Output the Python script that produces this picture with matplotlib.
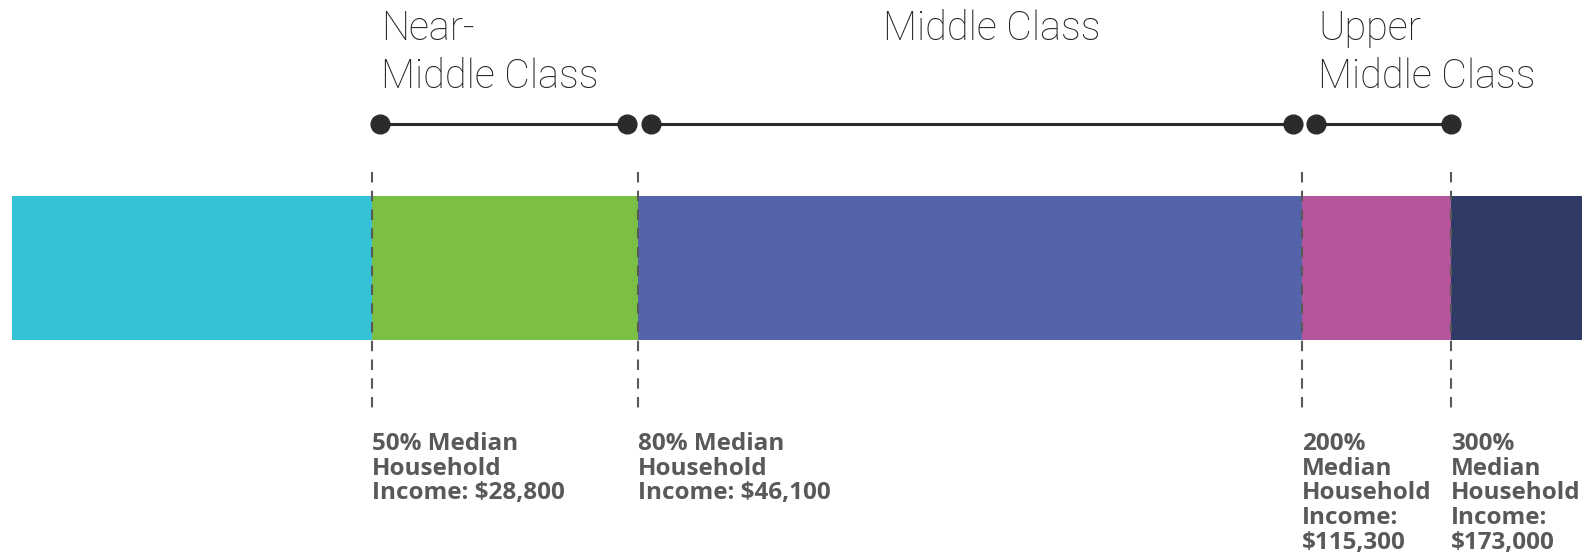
import matplotlib.pyplot as plt

# segment edges along the bar (chart units, left to right)
edges = [12, 372, 638, 1302, 1451, 1582]
colors = ["#35c1d6", "#7bbf45", "#5564aa", "#b5559b", "#2f3a66"]

# threshold labels under the bar, one per inner edge
thresholds = [
    "50% Median\nHousehold\nIncome: $28,800",
    "80% Median\nHousehold\nIncome: $46,100",
    "200%\nMedian\nHousehold\nIncome:\n$115,300",
    "300%\nMedian\nHousehold\nIncome:\n$173,000",
]

# class brackets above the bar
classes = ["Near-\nMiddle Class", "Middle Class", "Upper\nMiddle Class"]
bracket_ends = [(380, 627), (651, 1293), (1316, 1451)]

fig = plt.figure(figsize=(15.89, 5.57), dpi=100)
ax = fig.add_axes([0, 0, 1, 1])
ax.set_xlim(0, 1589)
ax.set_ylim(557, 0)
ax.axis("off")

bar_top, bar_h = 196, 144
for left, right, c in zip(edges[:-1], edges[1:], colors):
    ax.barh(bar_top + bar_h / 2, right - left, left=left, height=bar_h,
            color=c, linewidth=0)

grey = "#58595b"
for x, lab in zip(edges[1:-1], thresholds):
    ax.plot([x, x], [172, 413], color=grey, lw=1.5, ls=(0, (5, 4)))
    ax.text(x, 432, lab, ha="left", va="top", fontsize=17.5,
            fontfamily="Open Sans", fontweight="bold", color=grey,
            linespacing=1.04)

dark = "#2b2b2b"
for (a, b) in bracket_ends:
    ax.plot([a, b], [124, 124], color=dark, lw=2.2, marker="o", ms=13.5,
            mec=dark, mfc=dark)

top_font = dict(fontsize=28.5, fontfamily="Roboto", fontweight="light",
                color="#222222", va="top", linespacing=1.3)
ax.text(381, 10, classes[0], ha="left", **top_font)
ax.text(992, 10, classes[1], ha="center", **top_font)
ax.text(1318, 10, classes[2], ha="left", **top_font)

fig.savefig("out.png", dpi=100)
